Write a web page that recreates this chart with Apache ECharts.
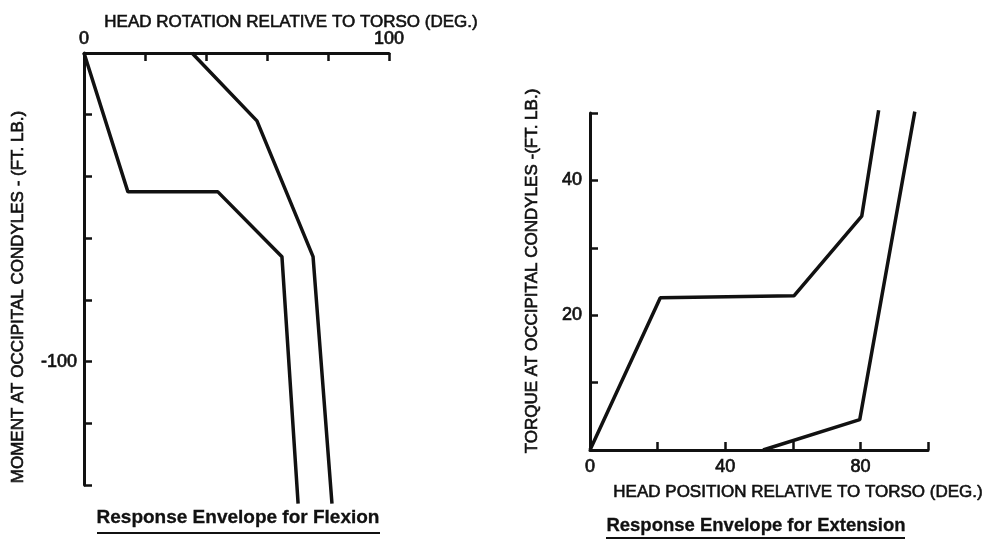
<!DOCTYPE html>
<html>
<head>
<meta charset="utf-8">
<script src="https://cdn.jsdelivr.net/npm/echarts@6/dist/echarts.min.js"></script>
<style>html,body{margin:0;padding:0;background:#fff}#c{width:992px;height:540px}</style>
</head>
<body>
<div id="c"></div>
<script>
// Flexion (left panel): [head rotation deg, moment ft.lb]
const flexionInner = [[0, 0], [14.4, -45], [43.9, -45], [64.9, -66], [70.2, -146]];
const flexionOuter = [[35.4, 0], [56.7, -22], [75.1, -66], [81.3, -146]];
// Extension (right panel): [head position deg, torque ft.lb]
const extensionUpper = [[0, 0], [20.8, 22.6], [60.4, 22.9], [80.4, 34.7], [85.4, 50.4]];
const extensionLower = [[51.2, 0], [79.8, 4.5], [96.1, 50.2]];

const flexXLabels = [0, 100];
const flexYLabels = [-100];
const extXLabels = [0, 40, 80];
const extYLabels = [20, 40];

const leftXTitle = 'HEAD ROTATION RELATIVE TO TORSO (DEG.)';
const leftYTitle = 'MOMENT AT OCCIPITAL CONDYLES - (FT. LB.)';
const leftTitle = 'Response Envelope for Flexion';
const rightXTitle = 'HEAD POSITION RELATIVE TO TORSO (DEG.)';
const rightYTitle = 'TORQUE AT OCCIPITAL CONDYLES -(FT. LB.)';
const rightTitle = 'Response Envelope for Extension';

const INK = '#111';
const FONT = "'Liberation Sans', Arial, sans-serif";

function axisCommon(labels, margin) {
  return {
    axisLine: { show: true, onZero: false, lineStyle: { color: INK, width: 3 } },
    axisTick: { show: true, inside: true, length: 8, lineStyle: { color: INK, width: 2.5 } },
    splitLine: { show: false },
    axisLabel: {
      show: true, margin: margin, color: INK, fontFamily: FONT, fontSize: 18,
      textBorderColor: INK, textBorderWidth: 0.7,
      showMinLabel: true, showMaxLabel: true,
      formatter: v => labels.indexOf(v) >= 0 ? String(v) : ''
    }
  };
}

const chart = echarts.init(document.getElementById('c'), null, { renderer: 'canvas' });

const textStyle = (size, weight, sw) => ({
  fill: INK, stroke: INK, lineWidth: sw,
  font: (weight || 'normal') + ' ' + size + 'px ' + FONT,
  textAlign: 'center', textVerticalAlign: 'middle'
});

const lineStyle = { color: INK, width: 3.5 };

chart.setOption({
  animation: false,
  backgroundColor: '#fff',
  grid: [
    { left: 84, top: 53, width: 305, height: 432 },
    { left: 590, top: 113, width: 338, height: 337 }
  ],
  xAxis: [
    Object.assign({ type: 'value', gridIndex: 0, position: 'top', min: 0, max: 100, interval: 20 }, axisCommon(flexXLabels, 5)),
    Object.assign({ type: 'value', gridIndex: 1, position: 'bottom', min: 0, max: 100, interval: 20 }, axisCommon(extXLabels, 8))
  ],
  yAxis: [
    Object.assign({ type: 'value', gridIndex: 0, min: -140, max: 0, interval: 20 }, axisCommon(flexYLabels, 7)),
    Object.assign({ type: 'value', gridIndex: 1, min: 0, max: 50, interval: 10 }, axisCommon(extYLabels, 8))
  ],
  series: [
    { type: 'line', xAxisIndex: 0, yAxisIndex: 0, data: flexionInner, showSymbol: false, clip: false, lineStyle: lineStyle },
    { type: 'line', xAxisIndex: 0, yAxisIndex: 0, data: flexionOuter, showSymbol: false, clip: false, lineStyle: lineStyle },
    { type: 'line', xAxisIndex: 1, yAxisIndex: 1, data: extensionUpper, showSymbol: false, clip: false, lineStyle: lineStyle },
    { type: 'line', xAxisIndex: 1, yAxisIndex: 1, data: extensionLower, showSymbol: false, clip: false, lineStyle: lineStyle }
  ],
  graphic: [
    { type: 'text', x: 291, y: 22, style: Object.assign({ text: leftXTitle }, textStyle(17, 'normal', 0.6)) },
    { type: 'text', x: 18, y: 297, rotation: Math.PI / 2, style: Object.assign({ text: leftYTitle }, textStyle(17, 'normal', 0.6)) },
    { type: 'text', x: 238, y: 518, style: Object.assign({ text: leftTitle }, textStyle(19, 'bold', 0.3)) },
    { type: 'line', shape: { x1: 97, y1: 533, x2: 380, y2: 533 }, style: { stroke: INK, lineWidth: 2 } },
    { type: 'text', x: 798, y: 492, style: Object.assign({ text: rightXTitle }, textStyle(17, 'normal', 0.6)) },
    { type: 'text', x: 532, y: 271, rotation: Math.PI / 2, style: Object.assign({ text: rightYTitle }, textStyle(17, 'normal', 0.6)) },
    { type: 'text', x: 756, y: 526, style: Object.assign({ text: rightTitle }, textStyle(18.5, 'bold', 0.3)) },
    { type: 'line', shape: { x1: 606, y1: 538, x2: 905, y2: 538 }, style: { stroke: INK, lineWidth: 2 } }
  ]
});
</script>
</body>
</html>
